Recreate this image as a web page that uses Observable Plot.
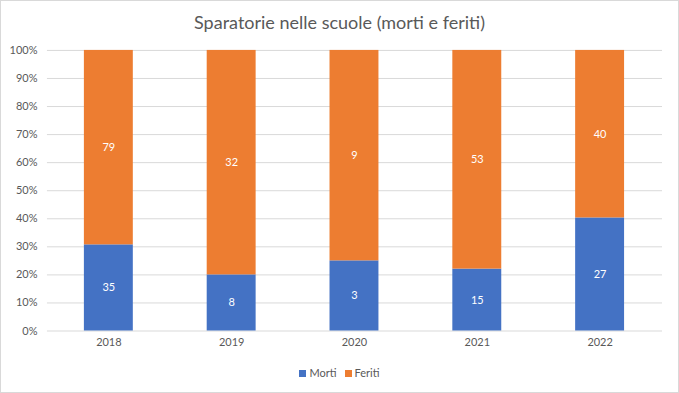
<!DOCTYPE html>
<html>
<head>
<meta charset="utf-8">
<script src="https://cdn.jsdelivr.net/npm/d3@7"></script>
<script src="https://cdn.jsdelivr.net/npm/@observablehq/plot@0.6"></script>
<style>
  body { margin: 0; background: #fff; }
  #chart { position: relative; width: 679px; height: 393px; box-sizing: border-box; border: 1px solid #d9d9d9; background: #fff; font-family: Lato, "Noto Sans", sans-serif; }
  #title { position: absolute; top: 10px; left: 0; width: 100%; text-align: center; font-size: 18px; color: #595959; }
  #plot { position: absolute; top: -1px; left: -1px; }
  #legend { position: absolute; top: 365px; left: 0; width: 100%; text-align: center; font-size: 11px; color: #595959; }
  .sw { display: inline-block; width: 7px; height: 7px; margin-right: 3px; vertical-align: 0px; }
  .item { margin: 0 4px; }
</style>
</head>
<body>
<div id="chart">
  <div id="title">Sparatorie nelle scuole (morti e feriti)</div>
  <div id="plot"></div>
  <div id="legend"></div>
</div>
<script>
const years = ["2018", "2019", "2020", "2021", "2022"];
const series = ["Morti", "Feriti"];
const morti = [35, 8, 3, 15, 27];
const feriti = [79, 32, 9, 53, 40];
const colors = ["#4472C4", "#ED7D31"];

const data = [];
years.forEach((y, i) => data.push({year: y, series: "Morti", value: morti[i]}));
years.forEach((y, i) => data.push({year: y, series: "Feriti", value: feriti[i]}));

const plot = Plot.plot({
  width: 679,
  height: 393,
  marginTop: 50,
  marginBottom: 62,
  marginLeft: 47,
  marginRight: 16,
  style: {fontFamily: "Lato, 'Noto Sans', sans-serif", fontSize: "11px", color: "#595959", background: "transparent"},
  x: {domain: years, paddingInner: 0.6, paddingOuter: 0.3, label: null, tickSize: 0, tickPadding: 7},
  y: {domain: [0, 1], label: null, tickSize: 0, tickPadding: 10, ticks: 10, tickFormat: d => Math.round(d * 100) + "%"},
  color: {domain: series, range: colors},
  marks: [
    Plot.gridY({ticks: 10, stroke: "#d9d9d9", strokeOpacity: 1}),
    Plot.barY(data, Plot.stackY({offset: "normalize", x: "year", y: "value", z: "series", fill: "series"})),
    Plot.textY(data, Plot.stackY({offset: "normalize", x: "year", y: "value", z: "series", text: d => String(d.value), fill: "white", fontSize: 11}))
  ]
});
document.getElementById("plot").appendChild(plot);

const legend = document.getElementById("legend");
series.forEach((s, i) => {
  const span = document.createElement("span");
  span.className = "item";
  span.innerHTML = `<span class="sw" style="background:${colors[i]}"></span>${s}`;
  legend.appendChild(span);
});
</script>
</body>
</html>
